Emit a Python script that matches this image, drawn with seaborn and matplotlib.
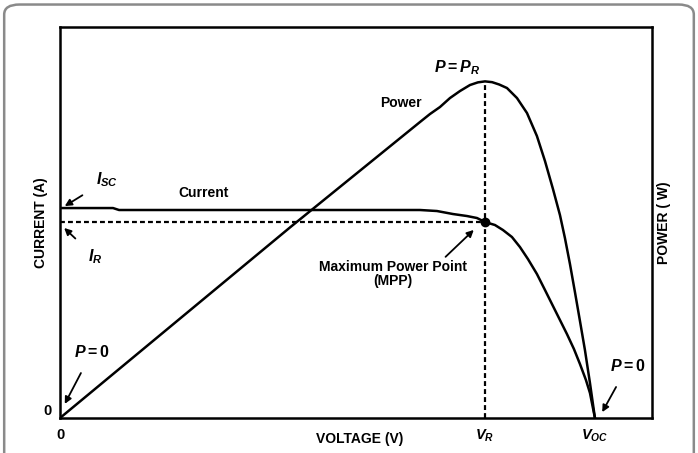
import matplotlib
matplotlib.use("Agg")
import matplotlib.pyplot as plt
import seaborn as sns
import pandas as pd
from matplotlib.patches import FancyBboxPatch

# ---- data (arbitrary units) ----
voltage_current = [0.0, 8.95, 9.97, 40.5, 60.81, 63.68, 66.39, 68.75, 70.44, 71.8,
                   73.48, 74.83, 76.35, 77.70, 79.05, 80.57, 81.93, 83.28, 84.46,
                   85.64, 86.82, 87.84, 88.85, 89.53, 90.37]
current = [53.7, 53.7, 53.2, 53.2, 53.2, 52.94, 52.17, 51.66, 51.15, 50.13,
           49.36, 48.08, 46.29, 43.73, 40.66, 36.83, 32.74, 28.64, 25.06,
           21.48, 17.65, 13.81, 9.72, 6.39, 0.0]

voltage_power = [0.0, 38.9, 60.81, 62.50, 64.19, 65.88, 67.57, 69.26, 70.6, 71.8,
                 73.0, 74.2, 75.51, 77.20, 78.89, 80.57, 81.93, 83.28, 84.46,
                 85.30, 86.15, 86.99, 87.84, 88.68, 89.53, 90.37]
power = [0.0, 48.8, 75.70, 77.75, 79.54, 81.84, 83.63, 85.17, 85.85, 86.1,
         85.9, 85.3, 84.40, 81.84, 78.01, 72.12, 65.73, 58.57, 51.92,
         46.04, 39.39, 32.23, 24.81, 17.39, 8.95, 0.0]

V_R = 71.8
V_OC = 90.37
I_SC = 53.7
I_R = 50.13
P_R = 86.1

x_ticks = [0.0, V_R, V_OC]
x_tick_labels = ["0", r"$V_R$", r"$V_{OC}$"]
y_ticks = [0.0]
y_tick_labels = ["0"]

# ---- style ----
sns.set_theme(style="white")
plt.rcParams["font.family"] = ["Liberation Sans", "DejaVu Sans"]
plt.rcParams["font.weight"] = "bold"
plt.rcParams["text.color"] = "black"
plt.rcParams["axes.labelcolor"] = "black"
plt.rcParams["xtick.color"] = "black"
plt.rcParams["ytick.color"] = "black"
plt.rcParams["mathtext.fontset"] = "custom"
plt.rcParams["mathtext.it"] = "Liberation Sans:italic:bold"
plt.rcParams["mathtext.rm"] = "Liberation Sans:bold"
plt.rcParams["mathtext.bf"] = "Liberation Sans:bold"

fig = plt.figure(figsize=(6.98, 4.53), dpi=100)

# rounded outer frame
frame = FancyBboxPatch((0.006, -0.05), 0.988, 1.04,
                       boxstyle="round,pad=0,rounding_size=0.022",
                       transform=fig.transFigure, fill=False,
                       edgecolor="#8a8a8a", linewidth=1.8, zorder=0)
fig.patches.append(frame)

ax = fig.add_axes([0.086, 0.0773, 0.848, 0.863])

df_c = pd.DataFrame({"V": voltage_current, "I": current})
df_p = pd.DataFrame({"V": voltage_power, "P": power})
sns.lineplot(data=df_c, x="V", y="I", ax=ax, color="black", linewidth=1.8,
             sort=False, estimator=None)
sns.lineplot(data=df_p, x="V", y="P", ax=ax, color="black", linewidth=1.8,
             sort=False, estimator=None)

dash = (0, (2.2, 1.4))
ax.plot([0, V_R], [I_R, I_R], color="black", linestyle=dash, linewidth=1.6)
ax.plot([V_R, V_R], [0, P_R], color="black", linestyle=dash, linewidth=1.6)
ax.plot([V_R], [I_R], marker="o", markersize=6, color="black")

ax.set_xlim(0, 100)
ax.set_ylim(0, 100)
for s in ax.spines.values():
    s.set_visible(True)
    s.set_color("black")
    s.set_linewidth(1.8)

ax.set_xticks(x_ticks)
ax.set_xticklabels(x_tick_labels, fontsize=10.5)
ax.set_yticks(y_ticks)
ax.set_yticklabels(y_tick_labels, fontsize=10.5, va="bottom")
ax.tick_params(axis="x", length=0, pad=7)
ax.tick_params(axis="y", length=0, pad=6)

ax.set_xlabel("VOLTAGE (V)", fontsize=10, fontweight="bold")
ax.xaxis.set_label_coords(0.507, -0.036)
ax.set_ylabel("CURRENT (A)", fontsize=10, fontweight="bold")
ax.yaxis.set_label_coords(-0.020, 0.5)

ax2 = ax.twinx()
ax2.set_ylim(0, 100)
ax2.set_yticks([])
ax2.set_ylabel("POWER ( W)", fontsize=10, fontweight="bold")
ax2.yaxis.set_label_coords(1.008, 0.5)
for s in ax2.spines.values():
    s.set_visible(False)

# ---- annotations ----
txt = dict(fontsize=10, fontweight="bold", color="black")
mtxt = dict(fontsize=11.5, fontweight="bold", color="black")
arr = dict(arrowstyle="-|>", color="black", lw=1.3, mutation_scale=10)

ax.annotate(r"$I_{SC}$", xy=(0.8, 54.2), xytext=(8.0, 60.9), ha="center", va="center",
            arrowprops=dict(arr, shrinkA=9, shrinkB=0), **mtxt)
ax.annotate(r"$I_R$", xy=(0.7, 48.6), xytext=(5.9, 41.2), ha="center", va="center",
            arrowprops=dict(arr, shrinkA=9, shrinkB=0), **mtxt)
ax.text(24.3, 57.5, "Current", ha="center", va="center", **txt)
ax.text(57.6, 80.6, "Power", ha="center", va="center", **txt)
ax.text(67.1, 89.5, r"$P = P_R$", ha="center", va="center", **mtxt)
ax.annotate("Maximum Power Point\n(MPP)", xy=(69.9, 48.1), xytext=(56.3, 36.8),
            ha="center", va="center", linespacing=1.0,
            arrowprops=dict(arr, shrinkA=0, shrinkB=0, relpos=(0.83, 1.0)), **txt)
ax.annotate(r"$P = 0$", xy=(0.8, 3.6), xytext=(5.4, 16.9), ha="center", va="center",
            arrowprops=dict(arr, shrinkA=8, shrinkB=0), **mtxt)
ax.annotate(r"$P = 0$", xy=(91.6, 1.5), xytext=(95.9, 13.3), ha="center", va="center",
            arrowprops=dict(arr, shrinkA=8, shrinkB=0), **mtxt)

fig.savefig("out.png", dpi=100)
